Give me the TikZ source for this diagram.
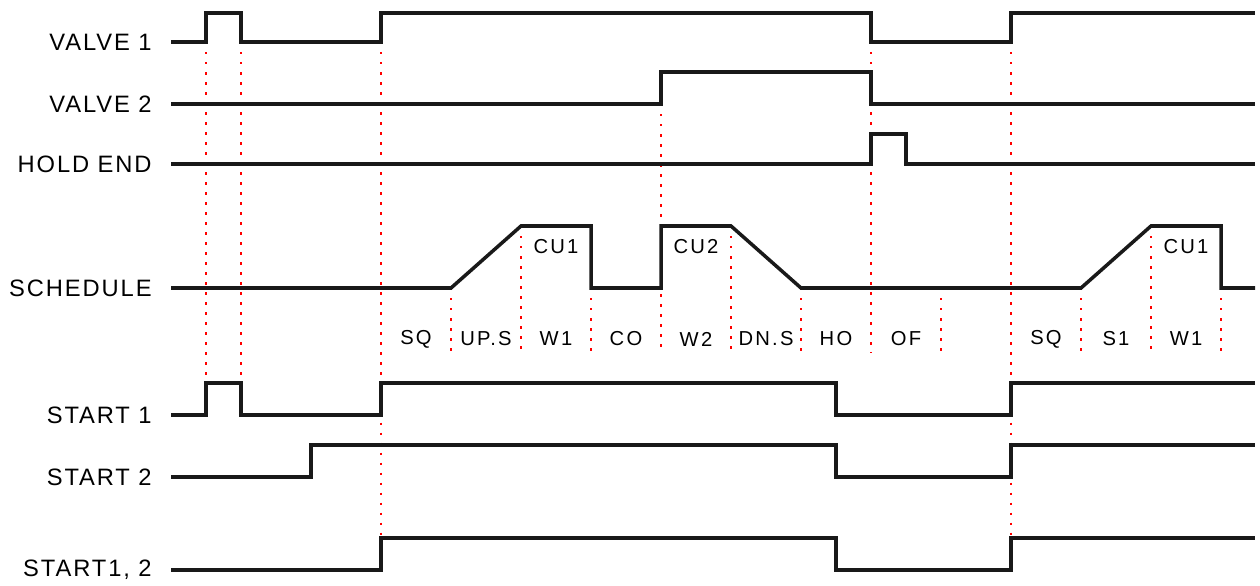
\documentclass[tikz,border=0pt]{standalone}
\usepackage{fontspec}
\setmainfont{Liberation Sans}
\newfontfamily\sigfont{Liberation Sans}[LetterSpace=8]
\newfontfamily\stepfont{Liberation Sans}[LetterSpace=11]
\usepackage{tikz}
\usetikzlibrary{calc}

\begin{document}
\begin{tikzpicture}[x=0.02cm,y=-0.02cm,
	wave/.style={line width=2pt,black!90,line join=miter},
	guide/.style={red,line width=0.8pt,dash pattern=on 1.4pt off 4.3pt},
	siglabel/.style={anchor=east,inner sep=0pt,font=\sigfont\fontsize{13.5}{15}\selectfont},
	phaselabel/.style={inner sep=0pt,font=\stepfont\fontsize{11.5}{13}\selectfont}]
	\useasboundingbox (0,0) rectangle (1260,585);

	%guide lines (behind the waves)
	\draw[guide] (206,42)--(206,383);
	\draw[guide] (241,42)--(241,383);
	\draw[guide] (381,42)--(381,538);
	\draw[guide] (451,288)--(451,353);
	\draw[guide] (521,226)--(521,353);
	\draw[guide] (591,288)--(591,353);
	\draw[guide] (661,104)--(661,353);
	\draw[guide] (731,226)--(731,353);
	\draw[guide] (801,288)--(801,353);
	\draw[guide] (871,42)--(871,353);
	\draw[guide] (941,288)--(941,353);
	\draw[guide] (1011,42)--(1011,538);
	\draw[guide] (1081,288)--(1081,353);
	\draw[guide] (1151,226)--(1151,353);
	\draw[guide] (1221,288)--(1221,353);

	%signal names
	\node[siglabel] (valveA)   at (152,42)  {VALVE 1};
	\node[siglabel] (valveB)   at (152,104) {VALVE 2};
	\node[siglabel] (holdend)  at (152,164) {HOLD END};
	\node[siglabel] (schedule) at (152,288) {SCHEDULE};
	\node[siglabel] (startA)   at (152,415) {START 1};
	\node[siglabel] (startB)   at (152,477) {START 2};
	\node[siglabel] (startAB)  at (152,570) {START1, 2};

	%waves
	\draw[wave] (171,42)--(206,42)--(206,13)--(241,13)--(241,42)--(381,42)--(381,13)--(871,13)--(871,42)--(1011,42)--(1011,13)--(1255,13);
	%
	\draw[wave] (171,104)--(661,104)--(661,72)--(871,72)--(871,104)--(1255,104);
	%
	\draw[wave] (171,164)--(871,164)--(871,134)--(906,134)--(906,164)--(1255,164);
	%
	\draw[wave] (171,288)--(451,288)--(521,226)--(591,226)--(591,288)--(661,288)--(661,226)--(731,226)--(801,288)--(1081,288)--(1151,226)--(1221,226)--(1221,288)--(1255,288);
	%
	\draw[wave] (171,415)--(206,415)--(206,383)--(241,383)--(241,415)--(381,415)--(381,383)--(836,383)--(836,415)--(1011,415)--(1011,383)--(1255,383);
	%
	\draw[wave] (171,477)--(311,477)--(311,445)--(836,445)--(836,477)--(1011,477)--(1011,445)--(1255,445);
	%
	\draw[wave] (171,570)--(381,570)--(381,538)--(836,538)--(836,570)--(1011,570)--(1011,538)--(1255,538);

	%step labels under the schedule
	\node[phaselabel] (sq)   at (416,339)  {SQ};
	\node[phaselabel] (ups)  at (486,339)  {UP.S};
	\node[phaselabel] (wA)   at (556,339)  {W1};
	\node[phaselabel] (co)   at (626,339)  {CO};
	\node[phaselabel] (wB)   at (696,339)  {W2};
	\node[phaselabel] (dns)  at (766,339)  {DN.S};
	\node[phaselabel] (ho)   at (836,339)  {HO};
	\node[phaselabel] (of)   at (906,339)  {OF};
	\node[phaselabel] (sqb)  at (1046,339) {SQ};
	\node[phaselabel] (sA)   at (1116,339) {S1};
	\node[phaselabel] (wAb)  at (1186,339) {W1};
	%
	\node[phaselabel] (cuA)  at (556,247)  {CU1};
	\node[phaselabel] (cuB)  at (696,247)  {CU2};
	\node[phaselabel] (cuAb) at (1186,247) {CU1};
\end{tikzpicture}
\end{document}
